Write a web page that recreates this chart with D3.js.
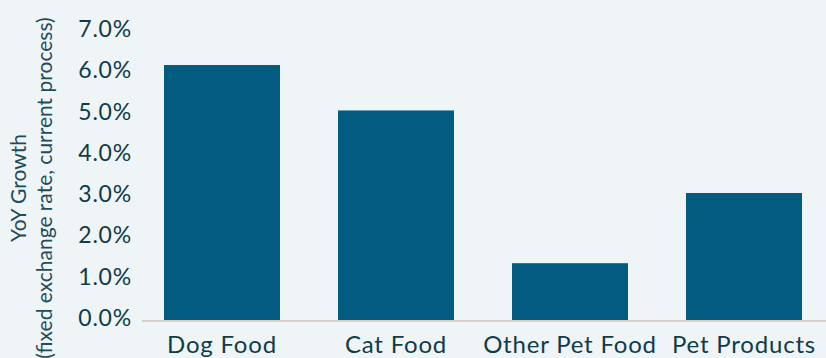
<!DOCTYPE html>
<html>
<head>
<meta charset="utf-8">
<script src="https://cdn.jsdelivr.net/npm/d3@7"></script>
<style>
  body { margin: 0; background: #eff4f7; }
  svg { display: block; font-family: Lato, "Noto Sans", sans-serif; }
</style>
</head>
<body>
<svg width="826" height="358"></svg>
<script>
const width = 826
const height = 358

const categories = ["Dog Food", "Cat Food", "Other Pet Food", "Pet Products"]
const growth = [6.2, 5.1, 1.4, 3.1]
const yTicks = [0, 1, 2, 3, 4, 5, 6, 7]

const data = categories.map((c, i) => ({cat: c, v: growth[i]}))

const svg = d3.select("svg")

svg.append("rect")
  .attr("width", width)
  .attr("height", height)
  .attr("fill", "#eff4f7")

const x = d3.scaleBand()
  .domain(categories)
  .range([135, 831])
  .paddingInner(1 / 3)
  .paddingOuter(1 / 6)

const y = d3.scaleLinear()
  .domain([0, 7])
  .range([321, 32])

// bars
svg.selectAll("rect.bar")
  .data(data)
  .join("rect")
  .attr("class", "bar")
  .attr("x", d => x(d.cat))
  .attr("y", d => y(d.v))
  .attr("width", x.bandwidth())
  .attr("height", d => y(0) - y(d.v))
  .attr("fill", "#025b81")

// baseline
svg.append("line")
  .attr("x1", 142)
  .attr("x2", width)
  .attr("y1", y(0))
  .attr("y2", y(0))
  .attr("stroke", "#d9d0c9")
  .attr("stroke-width", 2)

// y tick labels
svg.selectAll("text.ytick")
  .data(yTicks)
  .join("text")
  .attr("class", "ytick")
  .attr("x", 132)
  .attr("y", d => y(d) - 3)
  .attr("dy", "0.35em")
  .attr("text-anchor", "end")
  .attr("font-size", 23)
  .attr("letter-spacing", 0.8)
  .attr("fill", "#0f3c48")
  .text(d => d3.format(".1f")(d) + "%")

// category labels
svg.selectAll("text.xlab")
  .data(categories)
  .join("text")
  .attr("class", "xlab")
  .attr("x", d => x(d) + x.bandwidth() / 2)
  .attr("y", 353)
  .attr("text-anchor", "middle")
  .attr("font-size", 24)
  .attr("letter-spacing", 0.8)
  .attr("fill", "#0f3c48")
  .text(d => d)

// y axis title
const title = svg.append("text")
  .attr("transform", "translate(0,188) rotate(-90)")
  .attr("text-anchor", "middle")
  .attr("font-size", 21)
  .attr("fill", "#1e4d59")
title.append("tspan").attr("x", 0).attr("y", 26).text("YoY Growth")
title.append("tspan").attr("x", 0).attr("y", 52).text("(fixed exchange rate, current process)")
</script>
</body>
</html>
